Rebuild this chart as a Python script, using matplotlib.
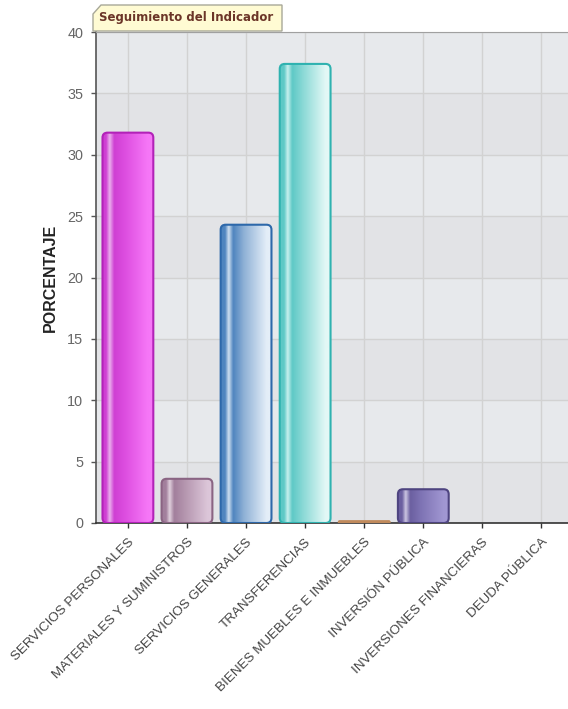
import numpy as np
import matplotlib
matplotlib.use("Agg")
import matplotlib.pyplot as plt
from matplotlib.patches import FancyBboxPatch, Polygon
from matplotlib.colors import LinearSegmentedColormap
import matplotlib.transforms as mtransforms

categories = ["SERVICIOS PERSONALES", "MATERIALES Y SUMINISTROS", "SERVICIOS GENERALES",
              "TRANSFERENCIAS", "BIENES MUEBLES E INMUEBLES", "INVERSIÓN PÚBLICA",
              "INVERSIONES FINANCIERAS", "DEUDA PÚBLICA"]
values = [31.8, 3.6, 24.3, 37.4, 0.15, 2.75, 0.0, 0.0]
yticks = [0, 5, 10, 15, 20, 25, 30, 35, 40]

# (edge, dark, highlight, mid, light)
palettes = [
    ("#b222b8", "#cf3fd3", "#eab0ed", "#dd4ee0", "#f677f7"),
    ("#8a6483", "#a27f9c", "#e0d0dd", "#b596af", "#dcc6d9"),
    ("#2d68aa", "#4f85bf", "#d0e0f0", "#8fb1d6", "#e4eef8"),
    ("#2fb2b0", "#5ec9c6", "#c8f0ee", "#8ad9d6", "#e3f8f6"),
    ("#c08a5c", "#d0a070", "#e8c8a8", "#d8a878", "#e8c0a0"),
    ("#4e4480", "#6b5fa0", "#ccc6e2", "#7e73b4", "#a197d2"),
    ("#888888", "#aaaaaa", "#dddddd", "#bbbbbb", "#dddddd"),
    ("#888888", "#aaaaaa", "#dddddd", "#bbbbbb", "#dddddd"),
]

W, H = 568, 709
fig = plt.figure(figsize=(W / 100, H / 100), dpi=100)
fig.patch.set_facecolor("white")

left_px, right_px, top_px, bot_px = 96, 571, 32, 523
ax = fig.add_axes([left_px / W, 1 - bot_px / H, (right_px - left_px) / W, (bot_px - top_px) / H])
ax.set_facecolor("#e5e7ea")
ax.set_xlim(-0.54, 7.5)
ax.set_ylim(0, 40)

# alternating bands
for i, y0 in enumerate(range(0, 40, 5)):
    ax.axhspan(y0, y0 + 5, color="#e2e3e6" if i % 2 == 0 else "#e7e9ec", zorder=0, lw=0)

ax.set_yticks(yticks)
x = np.arange(len(categories))
ax.set_xticks(x)
ax.set_xticklabels(categories, rotation=45, ha="right", va="top", rotation_mode="anchor",
                   fontsize=9.6, color="#444444", fontfamily="Liberation Sans")
offset = mtransforms.ScaledTranslation(5 / 100, 0, fig.dpi_scale_trans)
for lab in ax.get_xticklabels():
    lab.set_transform(lab.get_transform() + offset)
for lab in ax.get_yticklabels():
    lab.set_fontsize(10.4)
    lab.set_color("#666666")
    lab.set_fontfamily("Liberation Sans")
ax.tick_params(axis="x", length=3.6, width=1, color="#333333", pad=6)
ax.tick_params(axis="y", length=3.6, width=1, color="#555555", pad=5.5)
ax.grid(True, color="#d2d2d2", lw=1, zorder=1)
ax.set_axisbelow(True)
ax.spines["right"].set_visible(False)
ax.spines["top"].set_color("#a0a0a0")
ax.spines["left"].set_color("#555555")
ax.spines["bottom"].set_color("#333333")
ax.spines["left"].set_linewidth(1.2)
ax.spines["bottom"].set_linewidth(1.2)

ax.set_ylabel("PORCENTAJE", fontsize=11.5, fontweight="bold", color="#222222",
              fontfamily="Liberation Sans", labelpad=7)

bar_w = 0.86
bars = ax.bar(x, values, width=bar_w, color="none", edgecolor="none", zorder=2)

px_x = (right_px - left_px) / 8.04
px_y = (bot_px - top_px) / 40.0
aspect = px_x / px_y
r_px = 5.0
grad = np.linspace(0, 1, 256).reshape(1, -1)
for b, v, pal in zip(bars, values, palettes):
    if v <= 0:
        continue
    x0, w = b.get_x(), b.get_width()
    edge, dark, hi, mid, light = pal
    h_px = v * px_y
    r = min(r_px, h_px / 2) / px_x
    patch = FancyBboxPatch((x0, 0), w, v,
                           boxstyle=f"round,pad=0,rounding_size={r}",
                           mutation_aspect=aspect,
                           facecolor="none", edgecolor=edge, lw=1.5, zorder=4)
    ax.add_patch(patch)
    cmap = LinearSegmentedColormap.from_list(
        "g", [(0, dark), (0.08, dark), (0.15, hi), (0.24, dark), (0.45, mid), (0.9, light), (1, light)])
    im = ax.imshow(grad, cmap=cmap, extent=[x0, x0 + w, 0, v], aspect="auto",
                   zorder=3, interpolation="bilinear")
    im.set_clip_path(patch)

ax.set_xlim(-0.54, 7.5)
ax.set_ylim(0, 40)

# title box with folded corner
pts = [(93, 31), (93, 14), (101, 5), (282, 5), (282, 31)]
poly = Polygon([(px / W, 1 - py / H) for px, py in pts], closed=True,
               transform=fig.transFigure, facecolor="#fffbd3", edgecolor="#a8a898", lw=1, zorder=5)
fig.patches.append(poly)
fig.text(99 / W, 1 - 18 / H, "Seguimiento del Indicador", fontsize=8.5, fontweight="bold",
         color="#6b3528", fontfamily="DejaVu Sans", va="center", ha="left", zorder=6)

fig.savefig("out.png", dpi=100)
